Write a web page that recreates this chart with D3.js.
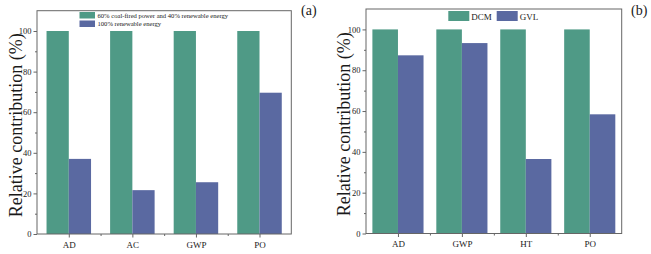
<!DOCTYPE html>
<html>
<head>
<meta charset="utf-8">
<script src="https://cdn.jsdelivr.net/npm/d3@7"></script>
<style>
  body { margin: 0; background: #fff; }
  svg text { font-family: "Liberation Serif", "Times New Roman", serif; fill: #1a1a1a; }
  .frame { fill: none; stroke: #666; stroke-width: 1; }
  .axis path { display: none; }
  .axis line { stroke: #666; }
</style>
</head>
<body>
<div id="chart"></div>
<script>
  // Panel (a) data
  const catsA = ['AD', 'AC', 'GWP', 'PO']
  const coalMix = [100, 100, 100, 100]
  const renewable = [37, 21.6, 25.5, 69.6]
  const seriesA = ['60% coal-fired power and 40% renewable energy', '100% renewable energy']

  // Panel (b) data
  const catsB = ['AD', 'GWP', 'HT', 'PO']
  const dcm = [100, 100, 100, 100]
  const gvl = [87.3, 93.3, 36.5, 58.4]
  const seriesB = ['DCM', 'GVL']

  const yTicks = [0, 20, 40, 60, 80, 100]
  const colors = ['#4f9a86', '#5a69a1']

  const width = 651
  const height = 254

  const svg = d3.select('#chart')
    .append('svg')
    .attr('width', width)
    .attr('height', height)

  function drawPanel(opts) {
    const { left, right, top, bottom, cats, vals, padIn, padOut } = opts
    const innerWidth = right - left
    const innerHeight = bottom - top

    const g = svg.append('g')
      .attr('transform', `translate(${left}, ${top})`)

    const x = d3.scaleBand()
      .domain(cats)
      .range([0, innerWidth])
      .paddingInner(padIn)
      .paddingOuter(padOut)

    const xs = d3.scaleBand()
      .domain([0, 1])
      .range([0, x.bandwidth()])

    const y = d3.scaleLinear()
      .domain([0, 110])
      .range([innerHeight, 0])

    // Bars
    vals.forEach((series, si) => {
      g.append('g')
        .selectAll('rect')
        .data(series)
        .enter()
        .append('rect')
        .attr('x', (d, i) => x(cats[i]) + xs(si))
        .attr('y', d => y(d))
        .attr('width', xs.bandwidth())
        .attr('height', d => y(0) - y(d))
        .attr('fill', colors[si])
    })

    // Left axis, major ticks
    g.append('g')
      .attr('class', 'axis')
      .call(d3.axisLeft(y).tickValues(yTicks).tickSize(3.5).tickPadding(2))
      .selectAll('text')
      .style('font-size', '8.5px')

    // Left minor ticks
    g.append('g')
      .attr('class', 'axis')
      .call(d3.axisLeft(y).tickValues([10, 30, 50, 70, 90]).tickSize(2).tickFormat(''))

    // Bottom axis - category centres
    const centres = cats.map(c => x(c) + x.bandwidth() / 2)
    const xLin = d3.scaleLinear().domain([0, innerWidth]).range([0, innerWidth])
    g.append('g')
      .attr('class', 'axis')
      .attr('transform', `translate(0, ${innerHeight})`)
      .call(d3.axisBottom(xLin).tickValues(centres).tickSize(3.5).tickPadding(4)
        .tickFormat((d, i) => cats[i]))
      .selectAll('text')
      .style('font-size', '9px')

    // Bottom minor ticks between categories
    const step = x.step()
    const mids = centres.slice(0, -1).map(c => c + step / 2)
    g.append('g')
      .attr('class', 'axis')
      .attr('transform', `translate(0, ${innerHeight})`)
      .call(d3.axisBottom(xLin).tickValues(mids).tickSize(2).tickFormat(''))

    // Frame
    g.append('rect')
      .attr('class', 'frame')
      .attr('x', 0)
      .attr('y', 0)
      .attr('width', innerWidth)
      .attr('height', innerHeight)

    // Y axis title
    svg.append('text')
      .attr('transform', `translate(${opts.titleX}, ${top + innerHeight / 2 + 3}) rotate(-90)`)
      .attr('text-anchor', 'middle')
      .style('font-size', '18px')
      .text('Relative contribution (%)')

    // Panel label
    svg.append('text')
      .attr('x', opts.labelX)
      .attr('y', 15)
      .style('font-size', '14px')
      .text(opts.label)

    return { g, x, y }
  }

  drawPanel({
    left: 37, right: 291.3, top: 10.7, bottom: 234,
    cats: catsA, vals: [coalMix, renewable],
    padIn: 0.3, padOut: 0.15,
    titleX: 21.5, labelX: 301, label: '(a)'
  })

  drawPanel({
    left: 366, right: 621.7, top: 9, bottom: 233.5,
    cats: catsB, vals: [dcm, gvl],
    padIn: 0.2, padOut: 0.1,
    titleX: 349.5, labelX: 631, label: '(b)'
  })

  // Legend (a): stacked rows
  const legA = svg.append('g')
  seriesA.forEach((s, i) => {
    legA.append('rect')
      .attr('x', 79.5)
      .attr('y', 12 + i * 8.5)
      .attr('width', 15.5)
      .attr('height', 6.5)
      .attr('fill', colors[i])
    legA.append('text')
      .attr('x', 97.5)
      .attr('y', 17.6 + i * 8.5)
      .style('font-size', '6.6px')
      .text(s)
  })

  // Legend (b): one row
  const legB = svg.append('g')
  const legBX = [448.3, 496.7]
  seriesB.forEach((s, i) => {
    legB.append('rect')
      .attr('x', legBX[i])
      .attr('y', 11)
      .attr('width', 21)
      .attr('height', 10)
      .attr('fill', colors[i])
    legB.append('text')
      .attr('x', legBX[i] + 23)
      .attr('y', 19.5)
      .style('font-size', '9px')
      .text(s)
  })
</script>
</body>
</html>
